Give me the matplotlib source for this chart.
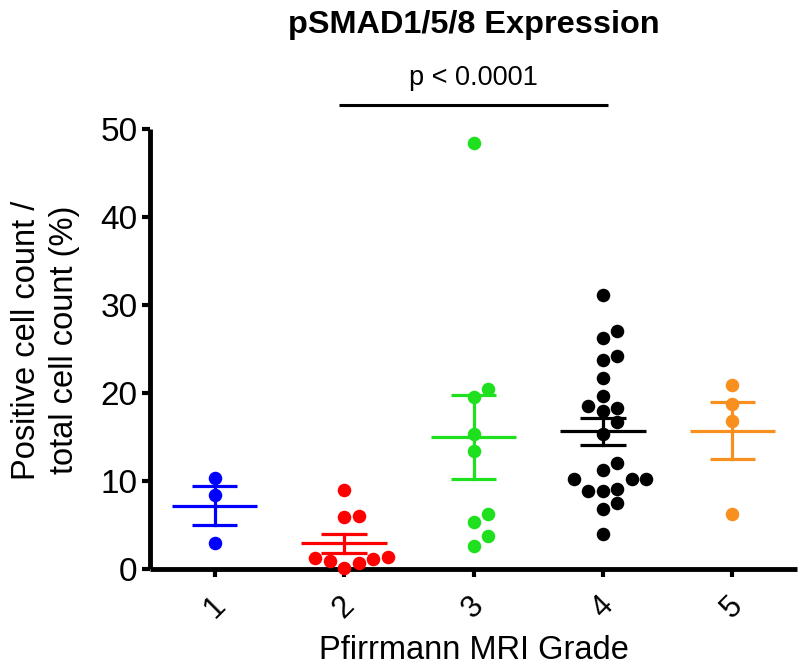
import numpy as np
import matplotlib
matplotlib.use("Agg")
import matplotlib.pyplot as plt

plt.rcParams["font.family"] = ["Liberation Sans", "DejaVu Sans"]

# ---- data ----
grades = [1, 2, 3, 4, 5]
grade1 = [10.3, 8.4, 2.9]
grade2 = [9.0, 5.9, 6.0, 1.4, 0.9, 1.2, 0.7, 1.1, 0.1]
grade3 = [48.4, 20.4, 19.5, 15.3, 13.4, 6.2, 5.3, 3.7, 2.6]
grade4 = [31.1, 27.1, 26.2, 24.2, 23.8, 21.7, 19.7, 18.5, 18.3, 17.9, 16.7,
          15.3, 12.1, 11.2, 10.2, 10.2, 10.2, 8.9, 9.1, 8.9, 7.5, 6.8, 4.0]
grade5 = [20.9, 18.8, 16.8, 6.3]
groups = [grade1, grade2, grade3, grade4, grade5]
colors = ["#0000ff", "#ff0000", "#1fe01f", "#000000", "#f7901e"]
compare = (2, 4)
p_label = "p < 0.0001"


def swarm(vals, center, ax, diam_px):
    """simple beeswarm: returns x positions in data units"""
    order = np.argsort(vals)
    pts = []
    xs = np.zeros(len(vals))
    x0, _ = ax.transData.transform((center, 0))
    cands = [0]
    for k in range(1, 20):
        cands += [k, -k]
    for i in order:
        _, yp = ax.transData.transform((center, vals[i]))
        for c in cands:
            xp = x0 + c * diam_px
            if all((xp - a) ** 2 + (yp - b) ** 2 >= (0.95 * diam_px) ** 2
                   for a, b in pts):
                break
        pts.append((xp, yp))
        xs[i] = ax.transData.inverted().transform((xp, yp))[0]
    return xs


fig = plt.figure(figsize=(8, 6.66), dpi=100, facecolor="white")
ax = fig.add_axes([150 / 800, 1 - 569 / 666, 647 / 800, 440 / 666])
ax.set_xlim(0.5, 5.5)
ax.set_ylim(0, 50)

for g, vals, c in zip(grades, groups, colors):
    vals = np.array(vals)
    xs = swarm(vals, g, ax, 14.5)
    ax.scatter(xs, vals, s=95, color=c, linewidths=0, zorder=3, clip_on=False)
    m = vals.mean()
    sem = vals.std(ddof=1) / np.sqrt(len(vals))
    ax.plot([g - 0.33, g + 0.33], [m, m], color=c, lw=2.3, zorder=4,
            solid_capstyle="butt")
    ax.plot([g, g], [m - sem, m + sem], color=c, lw=2.3, zorder=4)
    for yy in (m - sem, m + sem):
        ax.plot([g - 0.175, g + 0.175], [yy, yy], color=c, lw=2.3, zorder=4,
                solid_capstyle="butt")

# significance bar
ax.plot([compare[0] - 0.04, compare[1] + 0.04], [52.7, 52.7], color="black",
        lw=2.2, clip_on=False, solid_capstyle="butt")
ax.text(np.mean(compare), 54.3, p_label, ha="center", va="bottom",
        fontsize=19.5, color="black")

fig.text(474 / 800, 1 - 33 / 666, "pSMAD1/5/8 Expression", ha="center",
         va="baseline", fontsize=23.4, fontweight="bold")

for s in ["top", "right"]:
    ax.spines[s].set_visible(False)
for s in ["left", "bottom"]:
    ax.spines[s].set_linewidth(3.5)
    ax.spines[s].set_capstyle("butt")

ax.set_yticks([0, 10, 20, 30, 40, 50])
ax.set_xticks(grades)
ax.set_xticklabels([str(g) for g in grades], rotation=45, ha="center",
                   fontsize=22)
ax.tick_params(axis="y", labelsize=24, length=6, width=3, pad=3)
ax.tick_params(axis="x", length=5.5, width=3, pad=10)

ax.set_xlabel("Pfirrmann MRI Grade", fontsize=23.5, labelpad=8)
ax.set_ylabel("Positive cell count /\ntotal cell count (%)", fontsize=23.5,
              linespacing=1.3)
ax.yaxis.set_label_coords(-0.108, 0.52)

fig.savefig("out.png", dpi=100, facecolor="white")
